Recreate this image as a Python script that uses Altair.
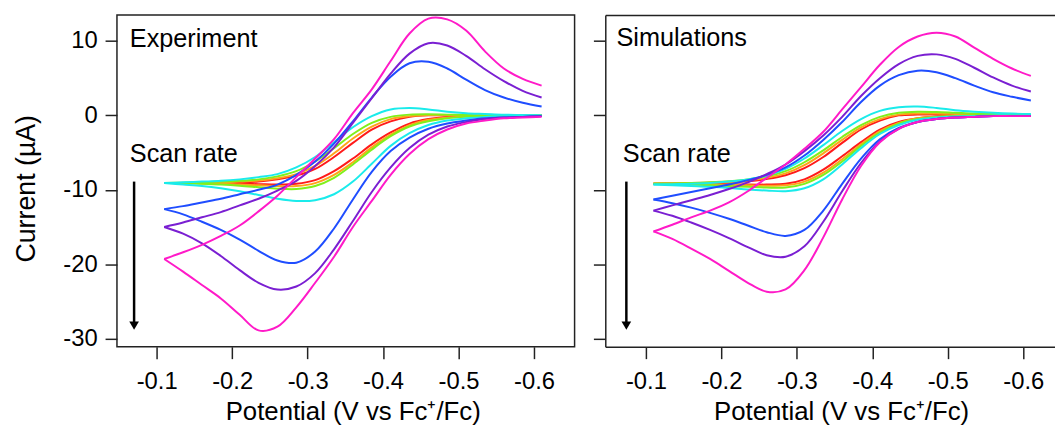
import altair as alt
import pandas as pd

FONT = "Liberation Sans"

# potential grid (V vs Fc+/Fc) shared by every branch
potential = [-0.11, -0.135, -0.16, -0.185, -0.21, -0.235, -0.26, -0.285, -0.31, -0.335,
             -0.36, -0.385, -0.41, -0.435, -0.46, -0.485, -0.51, -0.535, -0.56, -0.585, -0.61]

curve_names = ["red", "orange", "green", "cyan", "blue", "purple", "magenta"]
curve_colors = ["#ff1a1a", "#ffa31a", "#80f01a", "#1aebeb", "#1f4dff", "#7a1fd2", "#ff1ac8"]

# ---------------- Experiment (current, uA) ----------------
exp_red_up = [-9.1, -9.1, -9.1, -9.05, -9.0, -8.9, -8.6, -8.1, -7.2, -5.6, -3.7, -1.9, -0.8, -0.2, 0.0, 0.0, 0.0, 0.0, 0.0, 0.0, 0.0]
exp_red_low = [-9.1, -9.1, -9.1, -9.15, -9.2, -9.25, -9.3, -9.2, -8.7, -7.5, -5.8, -3.9, -2.3, -1.1, -0.5, -0.2, -0.1, 0.0, 0.0, 0.0, 0.0]
exp_orange_up = [-9.1, -9.1, -9.05, -9.0, -8.9, -8.75, -8.45, -7.9, -6.8, -5.1, -3.1, -1.5, -0.5, -0.1, 0.05, 0.05, 0.0, 0.0, 0.0, 0.0, 0.0]
exp_orange_low = [-9.1, -9.1, -9.15, -9.2, -9.3, -9.4, -9.5, -9.5, -9.1, -8.0, -6.3, -4.3, -2.6, -1.3, -0.6, -0.3, -0.1, 0.0, 0.0, 0.0, 0.0]
exp_green_up = [-9.1, -9.05, -9.0, -8.9, -8.8, -8.6, -8.2, -7.5, -6.2, -4.4, -2.5, -1.0, -0.2, 0.1, 0.15, 0.1, 0.05, 0.0, 0.0, 0.0, 0.0]
exp_green_low = [-9.1, -9.1, -9.2, -9.3, -9.45, -9.65, -9.85, -9.9, -9.5, -8.4, -6.6, -4.6, -2.8, -1.5, -0.8, -0.4, -0.2, -0.1, 0.0, 0.0, 0.0]
exp_cyan_up = [-9.1, -9.0, -8.9, -8.8, -8.6, -8.3, -7.9, -7.0, -5.6, -3.6, -1.6, -0.1, 0.8, 1.0, 0.8, 0.5, 0.3, 0.2, 0.1, 0.05, 0.0]
exp_cyan_low = [-9.1, -9.3, -9.5, -9.8, -10.2, -10.7, -11.2, -11.5, -11.4, -10.6, -8.9, -6.5, -4.1, -2.4, -1.3, -0.7, -0.4, -0.2, -0.1, 0.0, 0.0]
exp_blue_up = [-12.6, -12.2, -11.7, -11.2, -10.6, -10.0, -9.3, -8.0, -6.2, -3.8, -0.8, 2.4, 5.2, 7.0, 7.2, 6.3, 4.8, 3.4, 2.4, 1.7, 1.2]
exp_blue_low = [-12.6, -13.3, -14.3, -15.4, -16.7, -18.2, -19.5, -19.8, -18.3, -15.2, -11.3, -7.6, -4.8, -3.0, -1.8, -1.1, -0.7, -0.4, -0.3, -0.2, -0.1]
exp_purple_up = [-15.0, -14.4, -13.7, -13.0, -12.1, -11.2, -10.1, -8.8, -6.8, -4.3, -1.0, 2.3, 5.6, 8.3, 9.7, 9.4, 8.0, 6.2, 4.6, 3.3, 2.4]
exp_purple_low = [-15.0, -15.9, -17.2, -18.9, -20.8, -22.5, -23.4, -23.0, -21.2, -18.0, -14.2, -10.3, -7.0, -4.4, -2.6, -1.5, -0.9, -0.5, -0.3, -0.2, -0.1]
exp_magenta_up = [-19.3, -18.4, -17.4, -16.2, -14.8, -12.9, -10.8, -8.3, -5.8, -3.2, 0.3, 3.5, 7.3, 11.0, 13.0, 12.9, 11.4, 8.6, 6.3, 4.9, 4.0]
exp_magenta_low = [-19.3, -21.0, -22.8, -24.6, -26.8, -28.9, -28.4, -25.8, -22.5, -19.0, -15.0, -11.5, -8.0, -5.2, -3.2, -1.9, -1.1, -0.7, -0.4, -0.3, -0.2]

# ---------------- Simulations (current, uA) ----------------
sim_red_up = [-9.2, -9.15, -9.1, -9.05, -9.0, -8.85, -8.55, -8.05, -7.1, -5.6, -3.7, -1.9, -0.7, 0.0, 0.1, 0.1, 0.05, 0.0, 0.0, 0.0, 0.0]
sim_red_low = [-9.2, -9.2, -9.2, -9.2, -9.25, -9.3, -9.3, -9.2, -8.6, -7.3, -5.5, -3.6, -1.9, -0.9, -0.4, -0.15, -0.05, 0.0, 0.0, 0.0, 0.0]
sim_orange_up = [-9.2, -9.15, -9.1, -9.05, -8.95, -8.75, -8.4, -7.8, -6.7, -5.1, -3.3, -1.6, -0.5, 0.1, 0.25, 0.25, 0.2, 0.15, 0.1, 0.1, 0.05]
sim_orange_low = [-9.2, -9.2, -9.25, -9.3, -9.35, -9.4, -9.45, -9.4, -8.9, -7.7, -5.9, -3.9, -2.1, -1.0, -0.4, -0.2, -0.1, 0.0, 0.0, 0.0, 0.0]
sim_green_up = [-9.2, -9.15, -9.1, -9.0, -8.85, -8.6, -8.2, -7.5, -6.3, -4.7, -2.9, -1.3, -0.2, 0.35, 0.5, 0.45, 0.35, 0.25, 0.2, 0.15, 0.1]
sim_green_low = [-9.2, -9.25, -9.3, -9.4, -9.5, -9.6, -9.7, -9.7, -9.2, -8.0, -6.2, -4.1, -2.3, -1.1, -0.5, -0.2, -0.1, 0.0, 0.0, 0.0, 0.0]
sim_cyan_up = [-9.3, -9.25, -9.2, -9.1, -8.9, -8.6, -8.1, -7.2, -5.8, -4.0, -2.1, -0.5, 0.6, 1.1, 1.2, 1.0, 0.7, 0.5, 0.35, 0.25, 0.2]
sim_cyan_low = [-9.3, -9.4, -9.5, -9.6, -9.75, -9.95, -10.1, -10.2, -9.8, -8.6, -6.6, -4.4, -2.5, -1.3, -0.6, -0.3, -0.15, -0.1, 0.0, 0.0, 0.0]
sim_blue_up = [-11.3, -10.8, -10.3, -9.8, -9.3, -8.7, -8.0, -7.0, -5.4, -3.3, -0.9, 1.8, 4.0, 5.4, 6.0, 5.8, 5.0, 4.0, 3.1, 2.5, 2.0]
sim_blue_low = [-11.3, -11.8, -12.4, -13.1, -13.9, -14.8, -15.7, -16.2, -15.4, -12.8, -9.2, -5.8, -3.2, -1.7, -0.9, -0.5, -0.3, -0.2, -0.1, -0.1, -0.1]
sim_purple_up = [-12.8, -12.1, -11.4, -10.7, -9.9, -9.0, -7.9, -6.6, -4.8, -2.7, -0.2, 2.6, 5.0, 6.9, 8.0, 8.2, 7.6, 6.4, 5.1, 4.0, 3.2]
sim_purple_low = [-12.8, -13.5, -14.4, -15.4, -16.5, -17.7, -18.8, -19.0, -17.6, -14.3, -10.2, -6.4, -3.5, -1.8, -0.9, -0.5, -0.3, -0.2, -0.1, -0.1, -0.1]
sim_magenta_up = [-15.6, -14.7, -13.7, -12.8, -11.7, -10.2, -8.4, -6.6, -4.5, -2.2, 0.8, 3.8, 6.8, 9.2, 10.6, 11.1, 10.6, 9.1, 7.6, 6.3, 5.3]
sim_magenta_low = [-15.6, -16.6, -17.9, -19.3, -20.9, -22.5, -23.7, -23.4, -20.8, -16.4, -11.3, -6.8, -3.6, -1.8, -0.9, -0.5, -0.3, -0.2, -0.1, -0.1, -0.1]

exp_curves = [
    ("red", exp_red_up, exp_red_low), ("orange", exp_orange_up, exp_orange_low),
    ("green", exp_green_up, exp_green_low), ("cyan", exp_cyan_up, exp_cyan_low),
    ("blue", exp_blue_up, exp_blue_low), ("purple", exp_purple_up, exp_purple_low),
    ("magenta", exp_magenta_up, exp_magenta_low),
]
sim_curves = [
    ("red", sim_red_up, sim_red_low), ("orange", sim_orange_up, sim_orange_low),
    ("green", sim_green_up, sim_green_low), ("cyan", sim_cyan_up, sim_cyan_low),
    ("blue", sim_blue_up, sim_blue_low), ("purple", sim_purple_up, sim_purple_low),
    ("magenta", sim_magenta_up, sim_magenta_low),
]

# annotations (data coordinates)
panel_labels = ["Experiment", "Simulations"]
label_x = [-0.0644, -0.0610]
label_y = [9.2, 9.33]
scan_x = [-0.0644, -0.0694]
scan_y = [-6.27, -6.27]
arrow_x = [-0.0701, -0.0741]
arrow_top = [-8.9, -8.9]
arrow_tip = [-28.25, -28.25]

x_domains = [[-0.0474, -0.6537], [-0.0462, -0.6420]]
widths = [462, 454]
y_domain = [-31.1, 13.5]
x_ticks = [-0.1, -0.2, -0.3, -0.4, -0.5, -0.6]
y_ticks = [-30, -20, -10, 0, 10]


def to_frame(curves):
    rows = []
    for name, up, low in curves:
        for branch, vals in (("up", up), ("low", low)):
            for v, c in zip(potential, vals):
                rows.append({"curve": name, "seg": name + "_" + branch, "potential": v, "current": c})
    return pd.DataFrame(rows)


HYPHEN = "replace(datum.label, '\u2212', '-')"


def make_panel(i, curves):
    df = to_frame(curves)
    first = i == 0
    xscale = alt.Scale(domain=x_domains[i], nice=False, zero=False)
    yscale = alt.Scale(domain=y_domain, nice=False, zero=False)
    xaxis = alt.Axis(values=x_ticks, format=".1f", labelExpr=HYPHEN,
                     title="Potential (V vs Fc\u207a/Fc)", titleX=238, titleFontSize=26,
                     domain=not first, domainColor="#222", domainWidth=1.5)
    if first:
        yaxis = alt.Axis(values=y_ticks, format="d", labelExpr=HYPHEN,
                         title="Current (\u00b5A)", titleY=175, titleFontSize=27, domain=False)
    else:
        yaxis = alt.Axis(values=y_ticks, labels=False, title=None,
                         domain=True, domainColor="#222", domainWidth=1.5)

    lines = alt.Chart(df).mark_line(strokeWidth=2, interpolate="catmull-rom").encode(
        x=alt.X("potential:Q", scale=xscale, axis=xaxis),
        y=alt.Y("current:Q", scale=yscale, axis=yaxis),
        color=alt.Color("curve:N", scale=alt.Scale(domain=curve_names, range=curve_colors), legend=None),
        detail="seg:N",
    )

    top_axis = alt.Axis(orient="top", labels=False, ticks=False, title=None,
                        domain=True, domainColor="#222", domainWidth=1.5) if not first else None

    lab_df = pd.DataFrame({"potential": [label_x[i]], "current": [label_y[i]], "text": [panel_labels[i]]})
    lab_x = alt.X("potential:Q", axis=top_axis) if top_axis is not None else alt.X("potential:Q")
    label = alt.Chart(lab_df).mark_text(align="left", baseline="alphabetic", font=FONT,
                                        fontSize=25.5, color="black").encode(
        x=lab_x, y="current:Q", text="text:N")

    noax = alt.X("potential:Q", axis=None) if not first else alt.X("potential:Q")
    scan_df = pd.DataFrame({"potential": [scan_x[i]], "current": [scan_y[i]], "text": ["Scan rate"]})
    scan = alt.Chart(scan_df).mark_text(align="left", baseline="alphabetic", font=FONT,
                                        fontSize=25.5, color="black").encode(
        x=noax, y="current:Q", text="text:N")

    arr_df = pd.DataFrame({"potential": [arrow_x[i]], "current": [arrow_top[i]], "current2": [arrow_tip[i]]})
    shaft = alt.Chart(arr_df).mark_rule(color="black", strokeWidth=2.5).encode(
        x=noax, y="current:Q", y2="current2:Q")
    head_df = pd.DataFrame({"potential": [arrow_x[i]], "current": [arrow_tip[i]]})
    head = alt.Chart(head_df).mark_point(shape="triangle-down", filled=True, size=95,
                                         color="black", opacity=1).encode(
        x=noax, y="current:Q")

    layer = alt.layer(lines, label, scan, shaft, head).properties(width=widths[i], height=335)
    if not first:
        layer = layer.resolve_axis(x="independent").properties(
            view=alt.ViewBackground(strokeOpacity=0))
    return layer


left = make_panel(0, exp_curves)
right = make_panel(1, sim_curves)

chart = alt.hconcat(left, right, spacing=17).properties(
    padding={"left": 3, "top": 2, "right": 0, "bottom": 0}
).configure_view(
    stroke="#222", strokeWidth=1.5
).configure_axis(
    grid=False, tickColor="#222", tickWidth=1.5, tickSize=12,
    labelFont=FONT, labelFontSize=24, labelColor="black", labelPadding=8,
    titleFont=FONT, titleFontSize=25, titleFontWeight="normal", titleColor="black",
    titlePadding=24,
).configure_axisX(
    labelPadding=11, titlePadding=5
).configure_axisY(
    labelPadding=8, titlePadding=23
)

chart.save("out.html", embed_options={"renderer": "svg", "actions": False})
